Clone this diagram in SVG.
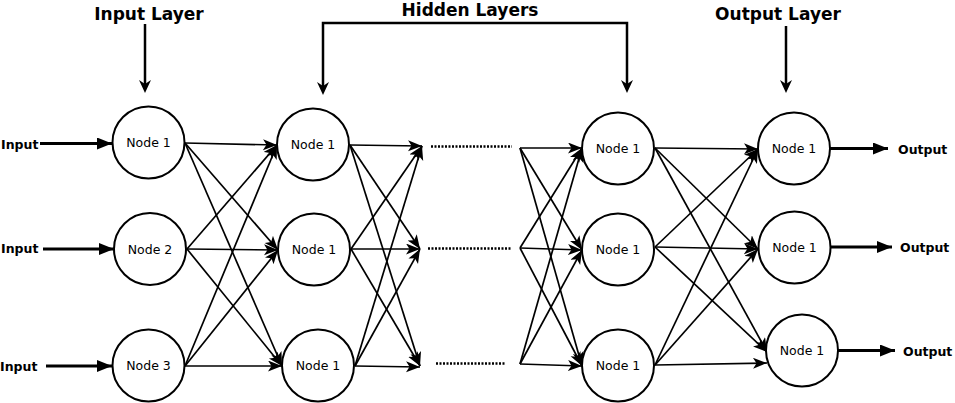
<svg xmlns="http://www.w3.org/2000/svg" width="955" height="403" viewBox="0 0 955 403">
<defs>
<marker id="ah" markerUnits="userSpaceOnUse" markerWidth="15" markerHeight="12" refX="14" refY="5.5" orient="auto">
<path d="M0,0 L14,5.5 L0,11 L3.5,5.5 z" fill="#000"/>
</marker>
<marker id="th" markerUnits="userSpaceOnUse" markerWidth="16" markerHeight="13" refX="15" refY="6" orient="auto">
<path d="M0,0 L15,6 L0,12 z" fill="#000"/>
</marker>
</defs>
<style>
.n{fill:#fff;stroke:#000;stroke-width:2}
.nl{font-family:"DejaVu Sans",sans-serif;font-size:12.5px;text-anchor:middle;dominant-baseline:central}
.e{stroke:#000;stroke-width:1.7;fill:none;marker-end:url(#ah)}
.t{stroke:#000;stroke-width:3;fill:none;marker-end:url(#th)}
.v{stroke:#000;stroke-width:2.5;fill:none}
.io{font-family:"DejaVu Sans",sans-serif;font-size:12.5px;font-weight:bold;dominant-baseline:central}
.ti{font-family:"DejaVu Sans",sans-serif;font-size:17px;font-weight:bold;text-anchor:middle}
.d{stroke:#000;stroke-width:2.5;stroke-dasharray:2,1.5;fill:none}
</style>
<g id="titles">
<text class="ti" x="149" y="20">Input Layer</text>
<text class="ti" x="470" y="16">Hidden Layers</text>
<text class="ti" x="778" y="20">Output Layer</text>
</g>
<g id="connectors">
<path class="v" d="M145,24 V88"/>
<path d="M139,80 L145,93 L151,80 L145,84 z"/>
<path class="v" d="M323,90 V23 H627 V88"/>
<path d="M317,82 L323,95 L329,82 L323,86 z"/>
<path d="M621,80 L627,93 L633,80 L627,84 z"/>
<path class="v" d="M786,26 V88"/>
<path d="M780,80 L786,93 L792,80 L786,84 z"/>
<path class="t" d="M40,143.5 H112"/>
<path class="t" d="M43,249 H114"/>
<path class="t" d="M46,366 H112"/>
<path class="t" d="M830,148.5 H888"/>
<path class="t" d="M830,247 H892"/>
<path class="t" d="M838,350.5 H895"/>
<path class="e" d="M185,143 L277,145"/>
<path class="e" d="M185,143 L278,250"/>
<path class="e" d="M185,143 L282,366"/>
<path class="e" d="M187,249 L277,145"/>
<path class="e" d="M187,249 L278,250"/>
<path class="e" d="M187,249 L282,366"/>
<path class="e" d="M185,366 L277,145"/>
<path class="e" d="M185,366 L278,250"/>
<path class="e" d="M185,366 L282,366"/>
<path class="e" d="M350,145 L422,146"/>
<path class="e" d="M350,145 L420,249"/>
<path class="e" d="M350,145 L420,366"/>
<path class="e" d="M351,249 L422,146"/>
<path class="e" d="M351,249 L420,249"/>
<path class="e" d="M351,249 L420,366"/>
<path class="e" d="M355,366 L422,146"/>
<path class="e" d="M355,366 L420,249"/>
<path class="e" d="M355,366 L420,367"/>
<path class="d" d="M431,146.5 H512"/>
<path class="d" d="M428,248.5 H512"/>
<path class="d" d="M436,363.5 H505"/>
<path class="e" d="M520,148 L582,148"/>
<path class="e" d="M520,148 L582,250"/>
<path class="e" d="M520,148 L582,366"/>
<path class="e" d="M520,248 L582,148"/>
<path class="e" d="M520,248 L582,250"/>
<path class="e" d="M520,248 L582,366"/>
<path class="e" d="M520,364 L582,148"/>
<path class="e" d="M520,364 L582,250"/>
<path class="e" d="M520,364 L582,366"/>
<path class="e" d="M655,148 L758,149"/>
<path class="e" d="M655,148 L758,249"/>
<path class="e" d="M655,148 L767,352"/>
<path class="e" d="M655,247 L758,149"/>
<path class="e" d="M655,247 L758,249"/>
<path class="e" d="M655,247 L767,352"/>
<path class="e" d="M655,365 L758,149"/>
<path class="e" d="M655,365 L758,249"/>
<path class="e" d="M655,365 L767,363"/>
</g>
<g id="io-labels">
<text class="io" x="1" y="144.5">Input</text>
<text class="io" x="1" y="248">Input</text>
<text class="io" x="0" y="366.5">Input</text>
<text class="io" x="898" y="149">Output</text>
<text class="io" x="900" y="247">Output</text>
<text class="io" x="903" y="351">Output</text>
</g>
<g id="n-l1-1"><circle class="n" cx="148.5" cy="142.5" r="36"/><text class="nl" x="148.5" y="142.5">Node 1</text></g>
<g id="n-l1-2"><circle class="n" cx="150" cy="249" r="36"/><text class="nl" x="150" y="249">Node 2</text></g>
<g id="n-l1-3"><circle class="n" cx="148.5" cy="365.5" r="36"/><text class="nl" x="148.5" y="365.5">Node 3</text></g>
<g id="n-l2-1"><circle class="n" cx="313" cy="144.5" r="36"/><text class="nl" x="313" y="144.5">Node 1</text></g>
<g id="n-l2-2"><circle class="n" cx="314" cy="249.5" r="36"/><text class="nl" x="314" y="249.5">Node 1</text></g>
<g id="n-l2-3"><circle class="n" cx="318" cy="365.5" r="36"/><text class="nl" x="318" y="365.5">Node 1</text></g>
<g id="n-l3-1"><circle class="n" cx="618" cy="148.5" r="36"/><text class="nl" x="618" y="148.5">Node 1</text></g>
<g id="n-l3-2"><circle class="n" cx="618" cy="249.5" r="36"/><text class="nl" x="618" y="249.5">Node 1</text></g>
<g id="n-l3-3"><circle class="n" cx="618" cy="365.5" r="36"/><text class="nl" x="618" y="365.5">Node 1</text></g>
<g id="n-o-1"><circle class="n" cx="794" cy="148.5" r="36"/><text class="nl" x="794" y="148.5">Node 1</text></g>
<g id="n-o-2"><circle class="n" cx="794.5" cy="247.5" r="36"/><text class="nl" x="794.5" y="247.5">Node 1</text></g>
<g id="n-o-3"><circle class="n" cx="802" cy="350.5" r="36"/><text class="nl" x="802" y="350.5">Node 1</text></g>
</svg>
